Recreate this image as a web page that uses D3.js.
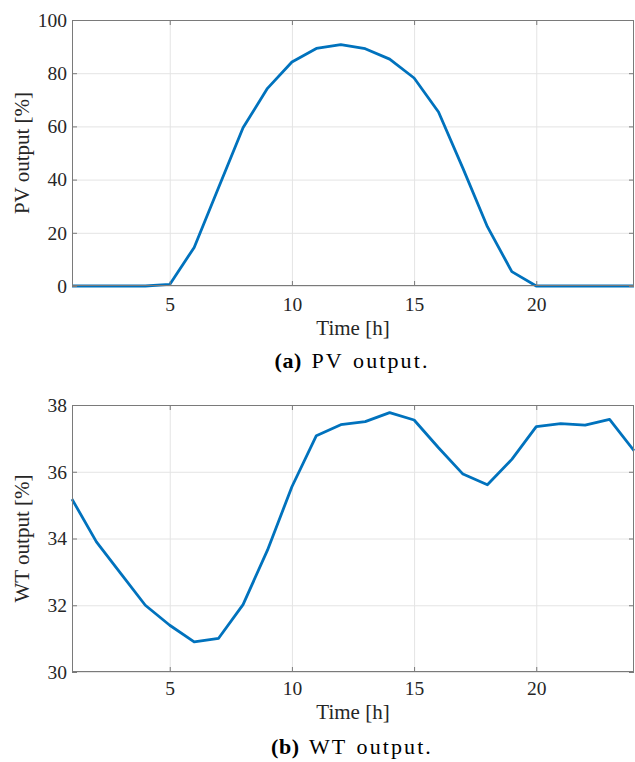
<!DOCTYPE html>
<html>
<head>
<meta charset="utf-8">
<script src="https://cdn.jsdelivr.net/npm/d3@7"></script>
<style>
  html, body { margin: 0; padding: 0; background: #fff; }
  svg { display: block; }
</style>
</head>
<body>
<svg id="fig" width="635" height="762"></svg>
<script>
// Hours of the day
const hours = d3.range(1, 25);

// PV output over the day [%]
const pvOutput = [0, 0, 0, 0, 0.6, 14.5, 37.0, 59.5, 74.3, 84.2, 89.3, 90.7,
                  89.2, 85.3, 78.2, 65.4, 44.2, 22.3, 5.4, 0, 0, 0, 0, 0];

// WT output over the day [%]
const wtOutput = [35.18, 33.90, 32.95, 32.00, 31.40, 30.90, 31.01, 32.02, 33.65, 35.55, 37.08, 37.41,
                  37.50, 37.77, 37.55, 36.72, 35.93, 35.61, 36.37, 37.35, 37.44, 37.40, 37.57, 36.63];

const xTicks = [5, 10, 15, 20];
const pvTicks = [0, 20, 40, 60, 80, 100];
const wtTicks = [30, 32, 34, 36, 38];

const panels = [
  { values: pvOutput, yDomain: [0, 100], yTicks: pvTicks, yLabel: "PV output [%]",
    top: 20, bottom: 286, tag: "(a)", caption: " PV output.", tickY: 311, xLabelY: 335, capY: 368 },
  { values: wtOutput, yDomain: [30, 38], yTicks: wtTicks, yLabel: "WT output [%]",
    top: 405, bottom: 672, tag: "(b)", caption: " WT output.", tickY: 695, xLabelY: 719, capY: 754 }
];

const left = 72, right = 634;
const svg = d3.select("#fig");
const serif = "'Liberation Serif', 'Times New Roman', Times, serif";
const axisColor = "#7a7a7a";
const gridColor = "#e4e4e4";
const textColor = "#262626";

panels.forEach(p => {
  const x = d3.scaleLinear().domain([1, 24]).range([left, right]);
  const y = d3.scaleLinear().domain(p.yDomain).range([p.bottom, p.top]);
  const g = svg.append("g");
  const w = right - left, h = p.bottom - p.top;

  // grid lines
  const grid = g.append("g").attr("class", "grid");
  grid.append("g").attr("transform", `translate(0,${p.bottom})`)
    .call(d3.axisBottom(x).tickValues(xTicks).tickSize(-h).tickFormat(""));
  grid.append("g").attr("transform", `translate(${left},0)`)
    .call(d3.axisLeft(y).tickValues(p.yTicks).tickSize(-w).tickFormat(""));
  grid.selectAll(".domain").remove();
  grid.selectAll(".tick line").attr("stroke", gridColor).attr("stroke-width", 1);

  // data line
  const line = d3.line().x((d, i) => x(hours[i])).y(d => y(d));
  g.append("path").datum(p.values)
    .attr("fill", "none").attr("stroke", "#0072BD").attr("stroke-width", 2.8)
    .attr("stroke-linejoin", "round").attr("d", line);

  // axes with inward ticks on all four sides
  const axes = g.append("g").attr("class", "axes");
  const bottomAx = axes.append("g").attr("transform", `translate(0,${p.bottom})`)
    .call(d3.axisBottom(x).tickValues(xTicks).tickSizeInner(-5).tickSizeOuter(0).tickFormat(d3.format("d")));
  bottomAx.selectAll(".tick text").attr("y", p.tickY - p.bottom).attr("dy", null);
  axes.append("g").attr("transform", `translate(${left},0)`)
    .call(d3.axisLeft(y).tickValues(p.yTicks).tickSizeInner(-5).tickSizeOuter(0).tickPadding(5).tickFormat(d3.format("d")));
  axes.append("g").attr("transform", `translate(0,${p.top})`)
    .call(d3.axisTop(x).tickValues(xTicks).tickSizeInner(-5).tickSizeOuter(0).tickFormat(""));
  axes.append("g").attr("transform", `translate(${right},0)`)
    .call(d3.axisRight(y).tickValues(p.yTicks).tickSizeInner(-5).tickSizeOuter(0).tickFormat(""));
  axes.selectAll("g").attr("font-family", serif).attr("font-size", 19.5);
  axes.selectAll(".domain").remove();
  axes.selectAll(".tick line").attr("stroke", axisColor);
  axes.selectAll(".tick text").attr("fill", textColor).attr("font-family", serif).attr("font-size", 19.5);

  // box edges
  g.append("rect").attr("x", left + 0.5).attr("y", p.top + 0.5)
    .attr("width", w - 1).attr("height", h - 1)
    .attr("fill", "none").attr("stroke", axisColor).attr("stroke-width", 1);

  // axis labels
  g.append("text").attr("x", (left + right) / 2).attr("y", p.xLabelY)
    .attr("text-anchor", "middle").attr("font-family", serif).attr("font-size", 21)
    .attr("fill", textColor).text("Time [h]");
  g.append("text").attr("transform", `translate(29,${(p.top + p.bottom) / 2}) rotate(-90)`)
    .attr("text-anchor", "middle").attr("font-family", serif).attr("font-size", 21)
    .attr("fill", textColor).text(p.yLabel);

  // sub-caption
  const cap = g.append("text").attr("x", 352).attr("y", p.capY)
    .attr("text-anchor", "middle").attr("font-family", serif).attr("font-size", 22)
    .attr("fill", "#000").attr("letter-spacing", "2.1px").attr("word-spacing", "2px");
  cap.append("tspan").attr("font-weight", "bold").attr("letter-spacing", "0.6px").text(p.tag);
  cap.append("tspan").text(p.caption);
});
</script>
</body>
</html>
